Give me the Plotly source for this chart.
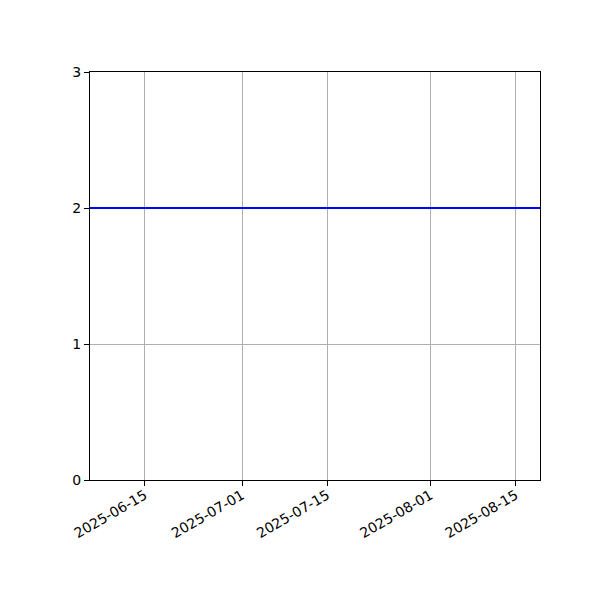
import plotly.graph_objects as go

dates = ["2025-06-06", "2025-08-19"]
values = [2, 2]
tick_dates = ["2025-06-15", "2025-07-01", "2025-07-15", "2025-08-01", "2025-08-15"]
y_ticks = [0, 1, 2, 3]

fig = go.Figure()
fig.add_trace(go.Scatter(x=dates, y=values, mode="lines",
                         line=dict(color="#0000ff", width=2), showlegend=False))

fig.update_layout(
    width=600, height=600,
    margin=dict(l=82, r=68, t=64, b=128, autoexpand=False),
    paper_bgcolor="white", plot_bgcolor="white",
    font=dict(family="DejaVu Sans", size=14, color="black"),
)
fig.update_xaxes(
    type="date", range=[dates[0], dates[-1]],
    tickvals=tick_dates, ticktext=tick_dates, tickangle=-30,
    ticklabelstandoff=-4,
    showgrid=True, gridcolor="#b0b0b0", gridwidth=1,
    showline=True, linecolor="black", linewidth=1, mirror=True,
    ticks="outside", ticklen=5, tickcolor="black", zeroline=False,
)
fig.update_yaxes(
    range=[0, 3], tickvals=y_ticks,
    showgrid=True, gridcolor="#b0b0b0", gridwidth=1,
    showline=True, linecolor="black", linewidth=1, mirror=True,
    ticks="outside", ticklen=5, tickcolor="black", zeroline=False,
)
fig.write_html("out.html")
